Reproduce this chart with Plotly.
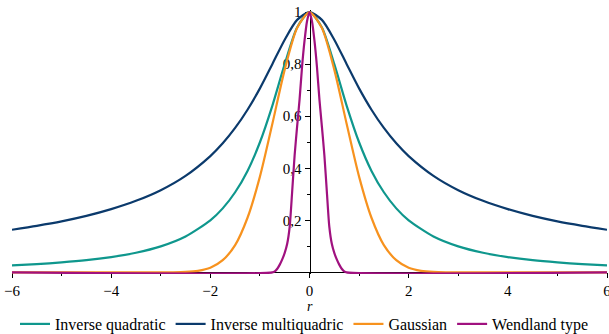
import plotly.graph_objects as go

# ---- data ----
r_broad = [-6, -5.5, -5, -4.5, -4, -3.5, -3, -2.5, -2, -1.75, -1.5, -1.25, -1, -0.75, -0.5, -0.25, 0,
           0.25, 0.5, 0.75, 1, 1.25, 1.5, 1.75, 2, 2.5, 3, 3.5, 4, 4.5, 5, 5.5, 6]
inv_quadratic = [0.027, 0.032, 0.0385, 0.047, 0.059, 0.0755, 0.1, 0.138, 0.2, 0.246, 0.308, 0.39, 0.5, 0.64, 0.8, 0.941, 1.0,
                 0.941, 0.8, 0.64, 0.5, 0.39, 0.308, 0.246, 0.2, 0.138, 0.1, 0.0755, 0.059, 0.047, 0.0385, 0.032, 0.027]
inv_multiquadric = [0.164, 0.179, 0.196, 0.217, 0.243, 0.275, 0.316, 0.371, 0.447, 0.496, 0.555, 0.625, 0.707, 0.8, 0.894, 0.970, 1.0,
                    0.970, 0.894, 0.8, 0.707, 0.625, 0.555, 0.496, 0.447, 0.371, 0.316, 0.275, 0.243, 0.217, 0.196, 0.179, 0.164]

r_gauss = [-6, -3, -2.75, -2.5, -2.25, -2, -1.75, -1.5, -1.25, -1, -0.75, -0.5, -0.25, 0,
           0.25, 0.5, 0.75, 1, 1.25, 1.5, 1.75, 2, 2.25, 2.5, 2.75, 3, 6]
gaussian = [0.0, 0.0001, 0.0005, 0.0019, 0.0063, 0.018, 0.047, 0.105, 0.21, 0.368, 0.57, 0.779, 0.939, 1.0,
            0.939, 0.779, 0.57, 0.368, 0.21, 0.105, 0.047, 0.018, 0.0063, 0.0019, 0.0005, 0.0001, 0.0]

r_wend = [-6, -0.75, -0.7, -0.65, -0.6, -0.55, -0.5, -0.45, -0.4, -0.35, -0.3, -0.25, -0.2, -0.15, -0.1, -0.05, 0,
          0.05, 0.1, 0.15, 0.2, 0.25, 0.3, 0.35, 0.4, 0.45, 0.5, 0.55, 0.6, 0.65, 0.7, 0.75, 6]
wendland = [0.0, 0.0, 0.004, 0.014, 0.03, 0.05, 0.075, 0.11, 0.175, 0.31, 0.45, 0.56, 0.665, 0.79, 0.89, 0.965, 1.0,
            0.965, 0.89, 0.79, 0.665, 0.56, 0.45, 0.31, 0.175, 0.11, 0.075, 0.05, 0.03, 0.014, 0.004, 0.0, 0.0]

x_tickvals = [-6, -4, -2, 0, 2, 4, 6]
x_ticktext = ["\u22126", "\u22124", "\u22122", "0", "2", "4", "6"]
y_tickvals = [0.2, 0.4, 0.6, 0.8, 1.0]
y_ticktext = ["0,2", "0,4", "0,6", "0,8", "1"]

names = ["Inverse quadratic", "Inverse multiquadric", "Gaussian", "Wendland type"]
colors = ["#0f978d", "#0b3a6c", "#f7921e", "#a0117f"]

FONT = "'Liberation Serif', 'DejaVu Serif', serif"
YMIN, YMAX = -0.006, 1.008

fig = go.Figure()
series = [(r_broad, inv_quadratic), (r_broad, inv_multiquadric), (r_gauss, gaussian), (r_wend, wendland)]
for (xs, ys), name, col in zip(series, names, colors):
    fig.add_trace(go.Scatter(x=xs, y=ys, mode="lines", name=name,
                             line=dict(color=col, width=2.2, shape="spline", smoothing=0.7)))

fig.update_layout(
    width=609, height=334,
    margin=dict(l=12, r=2, t=10, b=60, autoexpand=False),
    paper_bgcolor="white", plot_bgcolor="white",
    font=dict(family=FONT, size=14, color="black"),
    separators=", ",
    showlegend=True,
    legend=dict(orientation="h", xref="container", x=0.5, xanchor="center",
                yref="container", y=(334 - 324) / 334, yanchor="middle",
                font=dict(family=FONT, size=16), itemwidth=30, tracegroupgap=0,
                borderwidth=0, bgcolor="rgba(0,0,0,0)"),
    xaxis=dict(range=[-6, 6], anchor="free", position=(0 - YMIN) / (YMAX - YMIN), automargin=False,
               showgrid=False, zeroline=False, showline=True, linecolor="black", linewidth=1,
               ticks="outside", ticklen=5, tickwidth=1, tickcolor="black",
               tickvals=x_tickvals, ticktext=x_ticktext, ticklabeloverflow="allow",
               minor=dict(dtick=1, ticks="outside", ticklen=3, tickcolor="black", tickwidth=1, showgrid=False),
               layer="below traces", tickfont=dict(family=FONT, size=15)),
    yaxis=dict(range=[YMIN, YMAX], anchor="free", position=0.5, automargin=False,
               showgrid=False, zeroline=False, showline=True, linecolor="black", linewidth=1,
               ticks="outside", ticklen=5, tickwidth=1, tickcolor="black",
               tickvals=y_tickvals, ticktext=y_ticktext, ticklabeloverflow="allow",
               minor=dict(tickvals=[0.1, 0.3, 0.5, 0.7, 0.9], ticks="outside", ticklen=3,
                          tickcolor="black", tickwidth=1, showgrid=False),
               layer="below traces", tickfont=dict(family=FONT, size=15)),
)

fig.add_annotation(x=0, xref="x", y=0, yref="paper", yanchor="middle", yshift=-32,
                   text="<i>r</i>", showarrow=False, font=dict(family=FONT, size=14))

fig.write_html("out.html", config={"displayModeBar": False},
               post_script="document.body.style.margin='0';")
